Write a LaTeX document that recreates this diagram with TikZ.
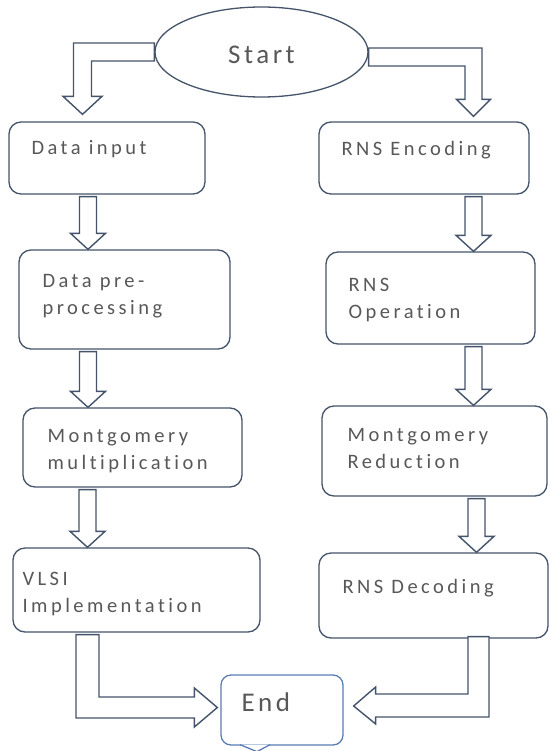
\documentclass[tikz,border=0pt]{standalone}
\usepackage{fontspec}
\newfontfamily\boxfont{Carlito}[LetterSpace=17, Ligatures={NoCommon,NoContextual}]
\newfontfamily\termfont{Carlito}[LetterSpace=13, Ligatures={NoCommon,NoContextual}]
\usetikzlibrary{shapes.geometric,calc}
\definecolor{linec}{HTML}{44546A}
\definecolor{endc}{HTML}{5A7DB4}
\definecolor{textc}{HTML}{585858}
\tikzset{
  box/.style={draw=linec, rounded corners=12pt, line width=1.3pt, fill=white},
  endbox/.style={draw=endc, rounded corners=10pt, line width=1.3pt, fill=white},
  terminal/.style={ellipse, draw=linec, line width=1.3pt, fill=white, inner sep=0pt},
  txt/.style={anchor=north west, inner sep=0pt, align=left, text=textc,
    font=\boxfont\fontsize{20.5}{27}\selectfont},
  bigtxt/.style={inner sep=0pt, text=textc, font=\termfont\fontsize{27}{32}\selectfont},
  hollow/.style={draw=linec, line width=1.4pt, fill=white, line join=miter}
}
% hollow block arrow going down: centre x, from node, to node
\newcommand{\downblock}[3]{%
  \draw[hollow] let \p1=(#2.south), \p2=(#3.north) in
    ({#1pt-8.5pt},\y1-2pt) -- ({#1pt+8.5pt},\y1-2pt) -- ({#1pt+8.5pt},\y2+16pt)
    -- ({#1pt+17.5pt},\y2+16pt) -- (#1pt,\y2) -- ({#1pt-17.5pt},\y2+16pt)
    -- ({#1pt-8.5pt},\y2+16pt) -- cycle;}

\begin{document}
\begin{tikzpicture}[x=1pt, y=-1pt]
  \useasboundingbox (0,0) rectangle (549,751);
  \fill[white] (0,0) rectangle (549,751);

  \node[terminal, minimum width=213, minimum height=90,
        label={[bigtxt, anchor=base, yshift=-3]center:Start}] (start) at (261.5,52) {};

  % left column
  \node[box, minimum width=196, minimum height=72,
        label={[txt, xshift=23, yshift=-19]north west:Data input}] (din) at (107,158) {};
  \node[box, minimum width=211, minimum height=99,
        label={[txt, xshift=24, yshift=-25]north west:Data pre-\\processing}] (dpre) at (124.5,299.5) {};
  \node[box, minimum width=219, minimum height=79,
        label={[txt, xshift=25, yshift=-22]north west:Montgomery\\multiplication}] (mmul) at (132.5,447.5) {};
  \node[box, minimum width=247, minimum height=84,
        label={[txt, xshift=10, yshift=-25]north west:VLSI\\Implementation}] (vlsi) at (136.5,590) {};

  % right column
  \node[box, minimum width=210, minimum height=72,
        label={[txt, xshift=23, yshift=-20]north west:RNS Encoding}] (renc) at (424,158) {};
  \node[box, minimum width=209, minimum height=92,
        label={[txt, xshift=23, yshift=-27]north west:RNS\\Operation}] (rop) at (430.5,298) {};
  \node[box, minimum width=225, minimum height=90,
        label={[txt, xshift=26, yshift=-23]north west:Montgomery\\Reduction}] (mred) at (434.5,451) {};
  \node[box, minimum width=229, minimum height=85,
        label={[txt, xshift=24, yshift=-27]north west:RNS Decoding}] (rdec) at (433.5,595.5) {};

  \node[endbox, minimum width=122, minimum height=70,
        label={[bigtxt, anchor=base west, xshift=21, yshift=-37]north west:End}] (end) at (282,710) {};
  \draw[endbox, rounded corners=0pt] ($(end.south)+(-42,-1)$) -- ($(end.south)+(-25,6)$)
    -- ($(end.south)+(-12,-1)$);

  % arrows from start
  \draw[hollow] let \p1=(start.west), \p2=(din.north) in
    (\x1,\y1+9pt) -- (73.5pt,\y1+9pt) -- (73.5pt,\y2+25pt) -- (63pt,\y2+25pt)
    -- (82.5pt,\y2+7pt) -- (102pt,\y2+25pt) -- (91.5pt,\y2+25pt) -- (91.5pt,\y1-9pt)
    -- (\x1,\y1-9pt) -- cycle;
  \draw[hollow] let \p1=(start.east), \p2=(renc.north) in
    (\x1,\y1+4pt) -- (482pt,\y1+4pt) -- (482pt,\y2+22pt) -- (490.5pt,\y2+22pt)
    -- (473.5pt,\y2+5pt) -- (456.5pt,\y2+22pt) -- (465pt,\y2+22pt) -- (465pt,\y1-14pt)
    -- (\x1,\y1-14pt) -- cycle;

  \downblock{88}{din}{dpre}
  \downblock{88}{dpre}{mmul}
  \downblock{87.5}{mmul}{vlsi}
  \downblock{473.5}{renc}{rop}
  \downblock{473.5}{rop}{mred}
  \downblock{476.5}{mred}{rdec}

  % arrows into end
  \draw[hollow] let \p1=(vlsi.south), \p2=(end.west) in
    (76pt,\y1-2pt) -- (99pt,\y1-2pt) -- (99pt,\y2+13pt) -- (\x2-26pt,\y2+13pt)
    -- (\x2-26pt,\y2+22pt) -- (\x2-3pt,\y2+2.5pt) -- (\x2-26pt,\y2-17pt)
    -- (\x2-26pt,\y2-8pt) -- (76pt,\y2-8pt) -- cycle;
  \draw[hollow] let \p1=(rdec.south), \p2=(end.east) in
    (468pt,\y1+2pt) -- (489pt,\y1+2pt) -- (489pt,\y2-7pt) -- (\x2+32pt,\y2-7pt)
    -- (\x2+32pt,\y2-14pt) -- (\x2+10pt,\y2+4pt) -- (\x2+32pt,\y2+23pt)
    -- (\x2+32pt,\y2+16pt) -- (468pt,\y2+16pt) -- cycle;
\end{tikzpicture}
\end{document}
